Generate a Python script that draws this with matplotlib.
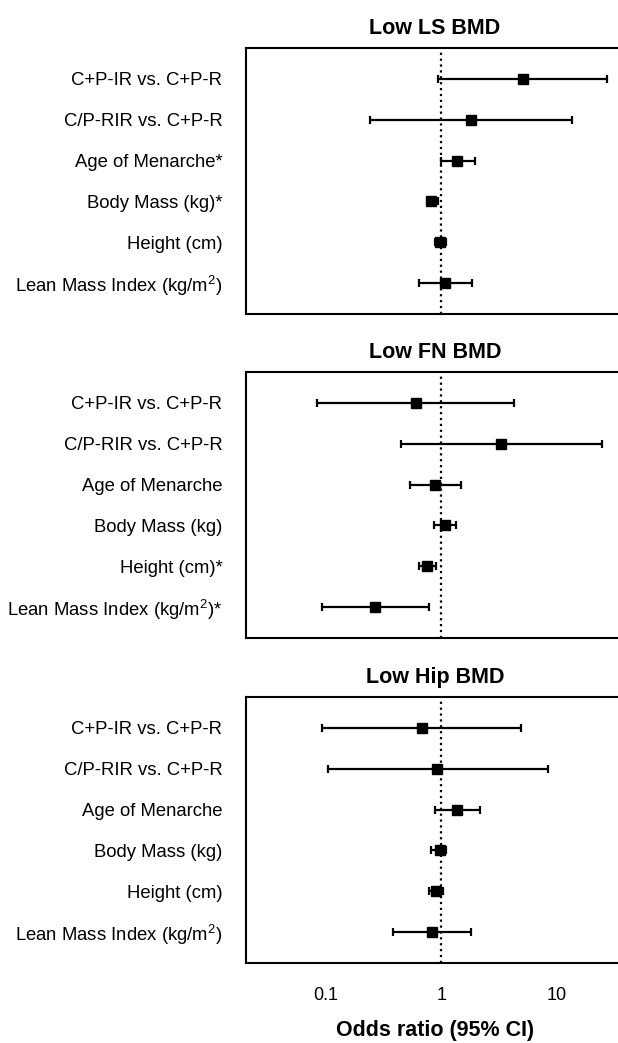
import matplotlib
matplotlib.use("Agg")
import matplotlib.pyplot as plt
from matplotlib.ticker import NullLocator, FixedLocator, FixedFormatter

plt.rcParams['font.family'] = ['Liberation Sans', 'DejaVu Sans']
plt.rcParams['mathtext.fontset'] = 'custom'
plt.rcParams['mathtext.rm'] = 'Liberation Sans'
plt.rcParams['mathtext.it'] = 'Liberation Sans:italic'

# panel titles and row labels
titles = ["Low LS BMD", "Low FN BMD", "Low Hip BMD"]
labels_ls = ["C+P-IR vs. C+P-R", "C/P-RIR vs. C+P-R", "Age of Menarche*",
             "Body Mass (kg)*", "Height (cm)", "Lean Mass Index (kg/m$^2$)"]
labels_fn = ["C+P-IR vs. C+P-R", "C/P-RIR vs. C+P-R", "Age of Menarche",
             "Body Mass (kg)", "Height (cm)*", "Lean Mass Index (kg/m$^2$)*"]
labels_hip = ["C+P-IR vs. C+P-R", "C/P-RIR vs. C+P-R", "Age of Menarche",
              "Body Mass (kg)", "Height (cm)", "Lean Mass Index (kg/m$^2$)"]

# odds ratios with 95% CI
or_ls = [5.1, 1.81, 1.38, 0.82, 0.97, 1.08]
lo_ls = [0.94, 0.24, 0.99, 0.77, 0.88, 0.64]
hi_ls = [27.1, 13.6, 1.95, 0.94, 1.10, 1.85]

or_fn = [0.60, 3.33, 0.89, 1.08, 0.76, 0.27]
lo_fn = [0.084, 0.45, 0.54, 0.87, 0.64, 0.092]
hi_fn = [4.25, 24.7, 1.49, 1.34, 0.90, 0.78]

or_hip = [0.68, 0.92, 1.38, 0.97, 0.90, 0.84]
lo_hip = [0.092, 0.105, 0.88, 0.82, 0.79, 0.38]
hi_hip = [4.94, 8.36, 2.19, 1.11, 1.04, 1.83]

xticks = [0.1, 1, 10]
xticklabels = ["0.1", "1", "10"]

W, H = 618, 1043
fig = plt.figure(figsize=(W / 100, H / 100), dpi=100)

panels = [
    (titles[0], labels_ls, or_ls, lo_ls, hi_ls, 48),
    (titles[1], labels_fn, or_fn, lo_fn, hi_fn, 372),
    (titles[2], labels_hip, or_hip, lo_hip, hi_hip, 697),
]

box_h = 266
for i, (title, labs, ors, los, his, top) in enumerate(panels):
    ax = fig.add_axes([246 / W, 1 - (top + box_h) / H, 1.01 - 246 / W, box_h / H])
    ypos = list(range(len(ors)))
    err = [[o - l for o, l in zip(ors, los)], [h - o for o, h in zip(ors, his)]]
    ax.axvline(1, color='black', ls=':', lw=1.6, zorder=1)
    ax.errorbar(ors, ypos, xerr=err, fmt='s', color='black', ms=7.5,
                elinewidth=1.6, capsize=2.6, capthick=1.6, zorder=3)
    ax.set_xscale('log')
    ax.set_xlim(0.0204, 38.5)
    ax.set_ylim(5.75, -0.75)
    ax.set_yticks(ypos)
    ax.set_yticklabels(labs, fontsize=13.3, va='center_baseline')
    ax.tick_params(axis='y', length=0, pad=17)
    ax.xaxis.set_minor_locator(NullLocator())
    ax.xaxis.set_major_locator(FixedLocator(xticks))
    ax.tick_params(axis='x', length=0)
    if i == 2:
        ax.xaxis.set_major_formatter(FixedFormatter(xticklabels))
        ax.tick_params(axis='x', labelsize=13, pad=17)
        ax.set_xlabel("Odds ratio (95% CI)", fontsize=15.5, fontweight='bold', labelpad=12)
    else:
        ax.set_xticklabels([])
    ax.set_title(title, fontsize=15.5, fontweight='bold', pad=10)
    for s in ax.spines.values():
        s.set_linewidth(1.5)
    ax.spines['right'].set_visible(False)

fig.savefig("out.png", dpi=100)
